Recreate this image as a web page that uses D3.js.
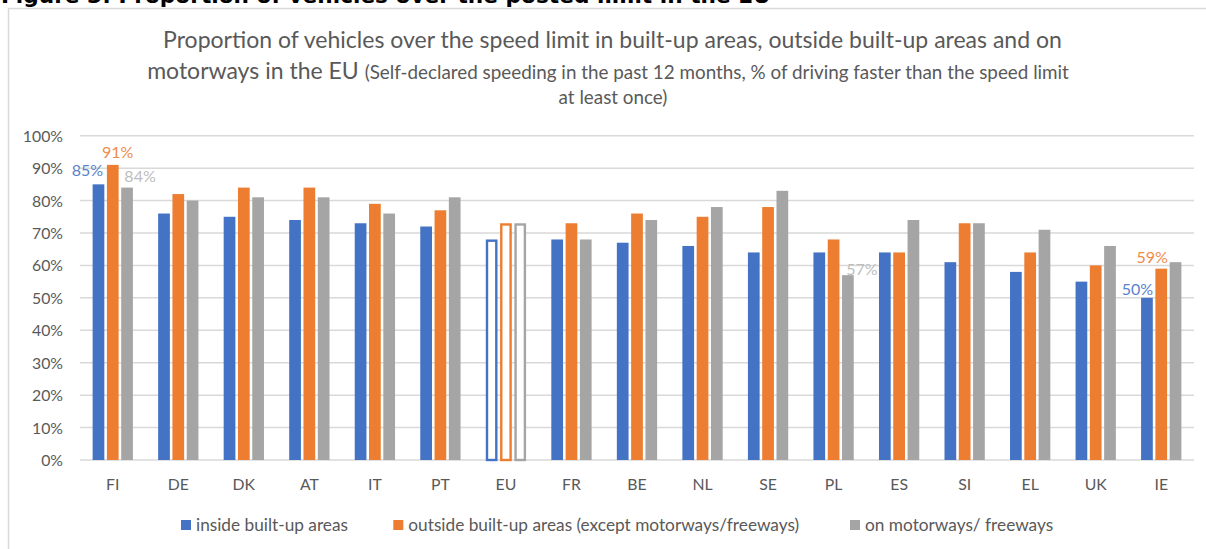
<!DOCTYPE html>
<html>
<head>
<meta charset="utf-8">
<script src="https://cdn.jsdelivr.net/npm/d3@7"></script>
<style>
  html, body { margin: 0; padding: 0; background: #fff; overflow: hidden; }
  svg { display: block; }
</style>
</head>
<body>
<svg id="chart" width="1206" height="549"></svg>
<script>
// Country codes in display order
const categories = ["FI", "DE", "DK", "AT", "IT", "PT", "EU", "FR", "BE", "NL", "SE", "PL", "ES", "SI", "EL", "UK", "IE"];

// Share of drivers speeding at least once in the past 12 months (%)
const insideBuiltUp  = [85, 76, 75, 74, 73, 72, 68, 68, 67, 66, 64, 64, 64, 61, 58, 55, 50];
const outsideBuiltUp = [91, 82, 84, 84, 79, 77, 73, 73, 76, 75, 78, 68, 64, 73, 64, 60, 59];
const onMotorways    = [84, 80, 81, 81, 76, 81, 73, 68, 74, 78, 83, 57, 74, 73, 71, 66, 61];

const seriesNames = [
  "inside built-up areas",
  "outside built-up areas (except motorways/freeways)",
  "on motorways/ freeways"
];
const seriesColors = ["#4472C4", "#ED7D31", "#A5A5A5"];
const labelColors = ["#5B82CC", "#F08C4A", "#BDBDBD"];

const yTicks = [0, 10, 20, 30, 40, 50, 60, 70, 80, 90, 100];

// The EU average is drawn as hollow bars
const averageCategory = "EU";

// Bars that carry a value label: [category, series index]
const labelledBars = [["FI", 0], ["FI", 1], ["FI", 2], ["PL", 2], ["IE", 0], ["IE", 1]];

// ---------------------------------------------------------------------------
const svg = d3.select("#chart");
const W = 1206, H = 549;
const FONT = "Lato, 'Open Sans', sans-serif";
const TEXT_GREY = "#595959";
const GRID_GREY = "#D9D9D9";

const allSeries = [insideBuiltUp, outsideBuiltUp, onMotorways];

const plot = { left: 80, right: 1194, top: 135.7, bottom: 460 };

const x0 = d3.scaleBand()
  .domain(categories)
  .range([plot.left, plot.right])
  .paddingInner(0.385)
  .paddingOuter(0.1925);

const x1 = d3.scaleBand()
  .domain(d3.range(allSeries.length))
  .range([0, x0.bandwidth()])
  .paddingInner(0.18)
  .paddingOuter(0);

const y = d3.scaleLinear().domain([0, 100]).range([plot.bottom, plot.top]);

function fitWidth(sel, target) {
  const w = sel.node().getComputedTextLength();
  const fs = parseFloat(sel.attr("font-size"));
  sel.attr("font-size", fs * target / w);
  return fs * target / w;
}

// Document caption above the chart frame (runs off the top edge)
const caption = svg.append("text")
  .attr("x", 1)
  .attr("y", 3)
  .attr("font-family", "'DejaVu Sans', Verdana, sans-serif")
  .attr("font-weight", "bold")
  .attr("font-size", 17)
  .attr("fill", "#000")
  .text("Figure 3: Proportion of vehicles over the posted limit in the EU");
fitWidth(caption, 770);

// Chart frame
svg.append("path")
  .attr("d", `M8.5,${H} V8.5 H${W}`)
  .attr("fill", "none")
  .attr("stroke", GRID_GREY)
  .attr("stroke-width", 1.5);

// Title
const titleG = svg.append("g")
  .attr("font-family", FONT)
  .attr("fill", TEXT_GREY)
  .attr("text-anchor", "middle");

const t1 = titleG.append("text")
  .attr("x", 612.5)
  .attr("y", 48)
  .attr("font-size", 19)
  .text("Proportion of vehicles over the speed limit in built-up areas, outside built-up areas and on");
const bigSize = fitWidth(t1, 899);

const t2 = titleG.append("text")
  .attr("x", 608)
  .attr("y", 79);
t2.append("tspan")
  .attr("font-size", bigSize)
  .text("motorways in the EU ");
const t2small = t2.append("tspan")
  .attr("font-size", 15)
  .text("(Self-declared speeding in the past 12 months, % of driving faster than the speed limit");
// scale the smaller part so the full line spans its width
{
  const total = t2.node().getComputedTextLength();
  const smallW = t2small.node().getComputedTextLength();
  const target = 922 - (total - smallW);
  t2small.attr("font-size", 15 * target / smallW);
}
const smallSize = parseFloat(t2small.attr("font-size"));

titleG.append("text")
  .attr("x", 613)
  .attr("y", 104)
  .attr("font-size", smallSize)
  .text("at least once)");

// Gridlines
svg.append("g")
  .selectAll("line")
  .data(yTicks)
  .join("line")
  .attr("x1", plot.left)
  .attr("x2", plot.right)
  .attr("y1", d => y(d))
  .attr("y2", d => y(d))
  .attr("stroke", GRID_GREY)
  .attr("stroke-width", 1.5);

// Y axis labels
const yAxis = d3.axisLeft(y)
  .tickValues(yTicks)
  .tickFormat(d => d + "%")
  .tickSize(0)
  .tickPadding(0);
const yAxisG = svg.append("g")
  .attr("transform", `translate(63,0)`)
  .call(yAxis);
yAxisG.select(".domain").remove();
yAxisG.selectAll("text")
  .attr("font-family", FONT)
  .attr("font-size", 15.8)
  .attr("fill", TEXT_GREY)
  .attr("dy", "0.35em");

// X axis labels
const xAxis = d3.axisBottom(x0).tickSize(0).tickPadding(0);
const xAxisG = svg.append("g")
  .attr("transform", `translate(0,${plot.bottom})`)
  .call(xAxis);
xAxisG.select(".domain").remove();
xAxisG.selectAll("text")
  .attr("font-family", FONT)
  .attr("font-size", 15.8)
  .attr("fill", TEXT_GREY)
  .attr("y", 24)
  .attr("dy", "0.35em");

// Bars
const barData = [];
categories.forEach((c, ci) => {
  allSeries.forEach((vals, si) => {
    barData.push({ cat: c, s: si, v: vals[ci] });
  });
});

const hollowStroke = 2.4;
svg.append("g")
  .selectAll("rect")
  .data(barData)
  .join("rect")
  .each(function (d) {
    const r = d3.select(this);
    const bx = x0(d.cat) + x1(d.s);
    const bw = x1.bandwidth();
    if (d.cat === averageCategory) {
      r.attr("x", bx + hollowStroke / 2)
        .attr("y", y(d.v) + hollowStroke / 2)
        .attr("width", bw - hollowStroke)
        .attr("height", y(0) - y(d.v) - hollowStroke / 2)
        .attr("fill", "#fff")
        .attr("stroke", seriesColors[d.s])
        .attr("stroke-width", hollowStroke);
    } else {
      r.attr("x", bx)
        .attr("y", y(d.v))
        .attr("width", bw)
        .attr("height", y(0) - y(d.v))
        .attr("fill", seriesColors[d.s]);
    }
  });

// Value labels, nudged clear of neighbouring bars
const labelNudge = {
  "FI-0": [-11, -14], "FI-1": [5, -12], "FI-2": [13, -11],
  "PL-2": [14, -6], "IE-0": [-9.5, -8.6], "IE-1": [-9, -11.4]
};
svg.append("g")
  .selectAll("text")
  .data(labelledBars)
  .join("text")
  .attr("font-family", FONT)
  .attr("font-size", 16)
  .attr("text-anchor", "middle")
  .attr("dy", "0.35em")
  .attr("fill", d => labelColors[d[1]])
  .each(function (d) {
    const ci = categories.indexOf(d[0]);
    const v = allSeries[d[1]][ci];
    const nudge = labelNudge[d[0] + "-" + d[1]] || [0, -10];
    d3.select(this)
      .attr("x", x0(d[0]) + x1(d[1]) + x1.bandwidth() / 2 + nudge[0])
      .attr("y", y(v) + nudge[1])
      .text(v + "%");
  });

// Legend
const legendX = [181, 393.3, 850];
const legend = svg.append("g")
  .selectAll("g")
  .data(seriesNames)
  .join("g")
  .attr("transform", (d, i) => `translate(${legendX[i]},520)`);
legend.append("rect")
  .attr("width", 10)
  .attr("height", 10)
  .attr("fill", (d, i) => seriesColors[i]);
const legendText = legend.append("text")
  .attr("x", 15)
  .attr("y", 5)
  .attr("dy", "0.35em")
  .attr("font-family", FONT)
  .attr("font-size", 15.5)
  .attr("fill", TEXT_GREY)
  .text(d => d);
fitWidth(d3.select(legendText.nodes()[0]), 152);
const legendSize = parseFloat(d3.select(legendText.nodes()[0]).attr("font-size"));
legendText.attr("font-size", legendSize);
</script>
</body>
</html>
